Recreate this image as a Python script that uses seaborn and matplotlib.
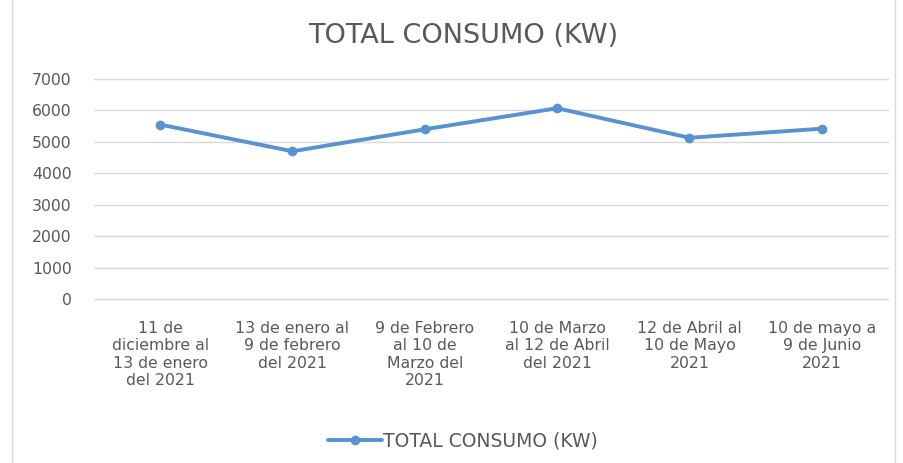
import matplotlib
matplotlib.use("Agg")
import matplotlib.pyplot as plt
from matplotlib.lines import Line2D
import seaborn as sns
import pandas as pd

# Billing periods and total consumption per period
periodos = [
    "11 de\ndiciembre al\n13 de enero\ndel 2021",
    "13 de enero al\n9 de febrero\ndel 2021",
    "9 de Febrero\nal 10 de\nMarzo del\n2021",
    "10 de Marzo\nal 12 de Abril\ndel 2021",
    "12 de Abril al\n10 de Mayo\n2021",
    "10 de mayo a\n9 de Junio\n2021",
]
consumo_kw = [5550, 4700, 5400, 6070, 5130, 5420]
y_ticks = [0, 1000, 2000, 3000, 4000, 5000, 6000, 7000]
serie = "TOTAL CONSUMO (KW)"

df = pd.DataFrame({"periodo": periodos, "consumo": consumo_kw, "serie": serie})

sns.set_theme(style="white")
plt.rcParams["font.family"] = ["DejaVu Sans"]

W, H = 904, 463
fig = plt.figure(figsize=(W / 100, H / 100), dpi=100)
ax = fig.add_axes([94 / W, 1 - 299 / H, (888 - 94) / W, (299 - 79) / H])

blue = "#5892D0"
text_gray = "#595959"

sns.lineplot(data=df, x="periodo", y="consumo", hue="serie", palette=[blue],
             marker="o", markersize=7, markeredgewidth=0, linewidth=2.8,
             sort=False, ax=ax, zorder=3)

ax.set_ylim(0, 7000)
ax.set_xlim(-0.5, len(periodos) - 0.5)
ax.set_yticks(y_ticks)
ax.yaxis.grid(True, color="#D9D9D9", linewidth=1)
for gl in ax.get_ygridlines():
    gl.set_clip_on(False)
ax.xaxis.grid(False)
for s in ax.spines.values():
    s.set_visible(False)
ax.set_xlabel("")
ax.set_ylabel("")
ax.tick_params(axis="both", length=0, colors=text_gray, labelsize=11.3)
ax.tick_params(axis="y", pad=16)
ax.tick_params(axis="x", pad=16)
ax.set_xticks(range(len(periodos)))
ax.set_xticklabels(periodos, linespacing=1.18, ha="center")

fig.text(463 / W, 1 - 36 / H, "TOTAL CONSUMO (KW)", ha="center", va="center",
         fontsize=19.5, color=text_gray)

ax.get_legend().remove()
fig.legend(handles=[Line2D([0], [0], color=blue, lw=2.8, marker="o",
                           markersize=7, markeredgewidth=0)],
           labels=[serie], loc="center", bbox_to_anchor=(463 / W, 1 - 441 / H),
           frameon=False, fontsize=13.5, labelcolor=text_gray,
           handlelength=2.9, handletextpad=0.05)

# Chart frame edges
for xf in (12 / W, 895 / W):
    fig.add_artist(Line2D([xf, xf], [0, 1], transform=fig.transFigure,
                          color="#D9D9D9", linewidth=1))

fig.savefig("out.png", dpi=100, facecolor="white")
